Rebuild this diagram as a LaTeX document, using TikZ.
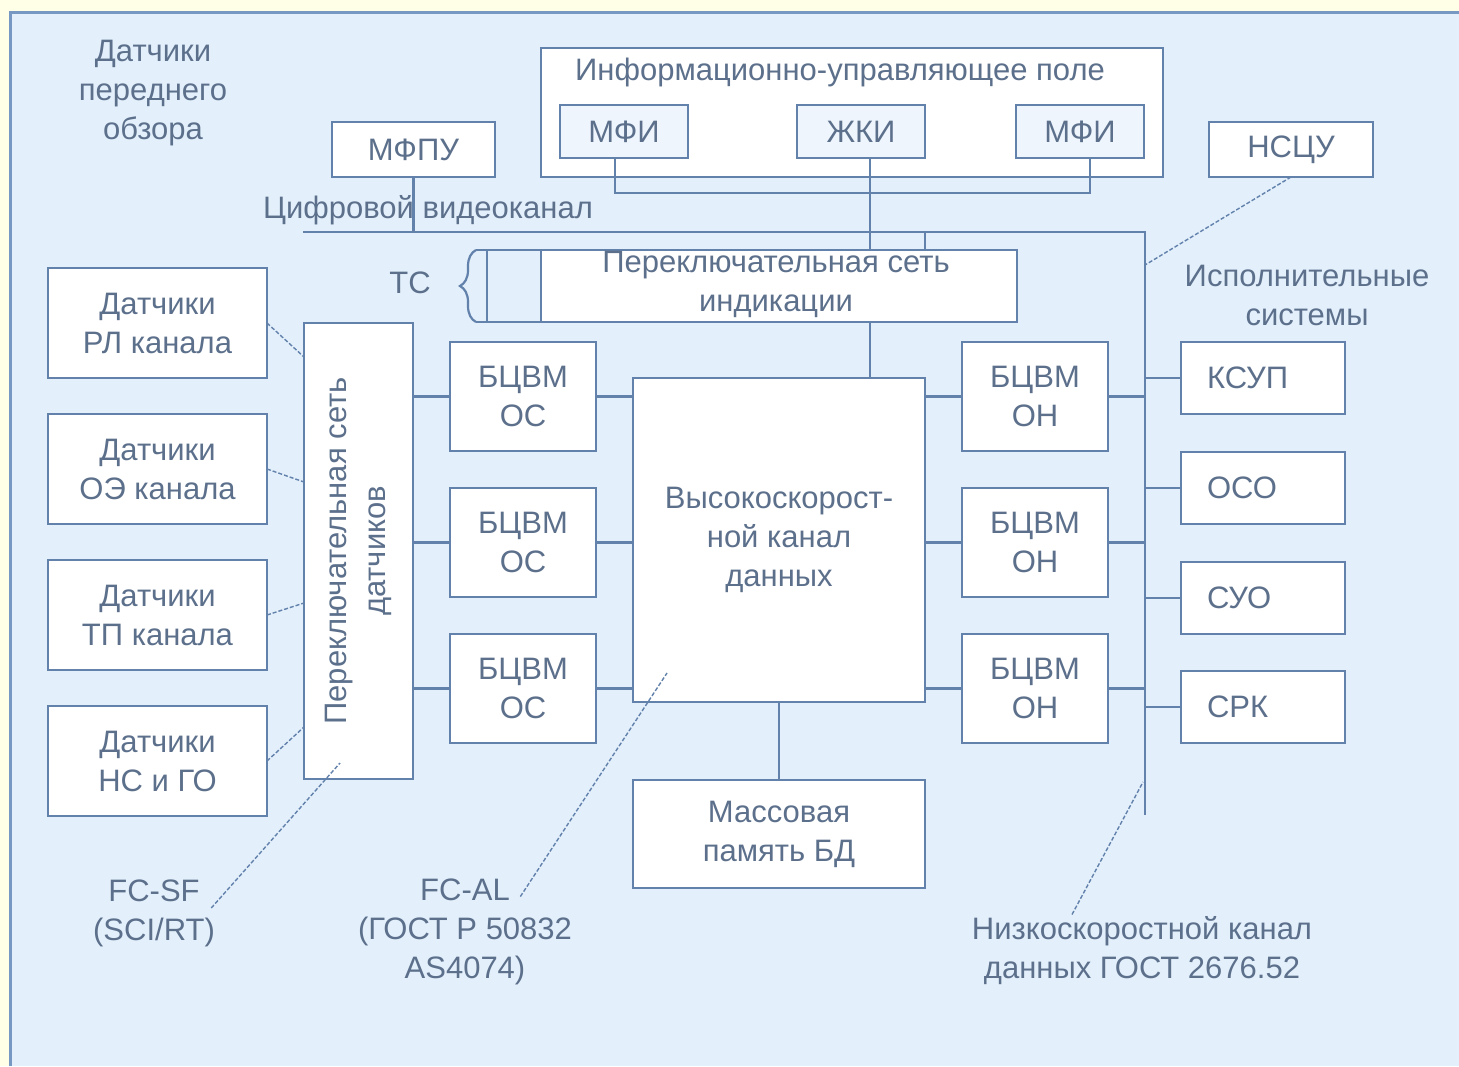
\documentclass[tikz,border=0pt]{standalone}
\usepackage{fontspec}
\setmainfont{Liberation Sans}
\usetikzlibrary{calc,positioning,decorations.pathreplacing}
\definecolor{linec}{RGB}{98,130,172}
\definecolor{textc}{RGB}{92,112,140}
\definecolor{panelc}{RGB}{227,239,251}
\definecolor{outerc}{RGB}{255,255,232}
\definecolor{framec}{RGB}{120,152,196}

\begin{document}
\begin{tikzpicture}[x=0.5pt,y=-0.5pt,
  font=\fontsize{15.5}{19.5}\selectfont, text=textc,
  lbl/.style={align=center,inner sep=1pt},
  box/.style={draw=linec,line width=1.2pt,fill=white,inner sep=0pt,outer sep=0pt,align=center},
  dispbox/.style={box,fill=panelc!60,minimum width=64pt,minimum height=26.5pt},
  sensbox/.style={box,minimum width=109.5pt,minimum height=55pt},
  cpubox/.style={box,minimum width=73pt,minimum height=54.5pt},
  execbox/.style={box,minimum width=82pt,minimum height=36pt,text width=56pt,inner xsep=13pt,align=left},
  link/.style={draw=linec,line width=1.1pt},
  note/.style={draw=linec,line width=0.7pt,dash pattern=on 2pt off 1pt}]
\useasboundingbox (0,0) rectangle (1459,1066);
\fill[outerc] (0,0) rectangle (1459,1066);
\fill[panelc] (10,12) rectangle (1459,1066);
\draw[framec,line width=1.5pt] (10,1066) -- (10,12) -- (1459,12);

% верхняя часть
\node[lbl] (front) at (153,93) {Датчики\\переднего\\обзора};
\node[box,minimum width=81.5pt,minimum height=27.5pt] (mfpu) at (413.5,149.5) {МФПУ};
\node[box,minimum width=311pt,minimum height=64.5pt] (iup) at (852,112.5) {};
\node[lbl] (iuptitle) at (840,72) {Информационно-управляющее поле};
\node[dispbox] (mfi1) at (624,131.5) {МФИ};
\node[dispbox] (zhki) at (861,131.5) {ЖКИ};
\node[dispbox] (mfi2) at (1080,131.5) {МФИ};
\node[box,minimum width=82pt,minimum height=27.5pt] (nscu) at (1291,149.5) {НСЦУ};
\node[lbl] (video) at (428,210) {Цифровой видеоканал};
\coordinate (vb) at (303,232);
\coordinate (lsb) at (1145,232);
\coordinate (lse) at (1145,815);

% сеть индикации
\fill[white] (541,250) rectangle (1017,322);
\node[draw=linec,line width=1.2pt,inner sep=0pt,outer sep=0pt,minimum width=265pt,minimum height=36pt] (isw) at (752,286) {};
\draw[link] (541,250) -- (541,322);
\draw[link] (476,250) -- (isw.north west);
\draw[link] (476,322) -- (isw.south west);
\draw[link,decorate,decoration={brace,amplitude=8pt}] (476,322) -- (476,250);
\node[lbl] (iswtext) at (776,284) {Переключательная сеть\\индикации};
\node[lbl] (tc) at (410,283) {ТС};

% центральная часть
\node[box,minimum width=54.5pt,minimum height=228pt] (ssw) at (358.5,551) {};
\node[lbl,rotate=90] (sswtext) at (ssw.center) {Переключательная сеть\\датчиков};
\node[box,minimum width=146pt,minimum height=162pt] (hsc) at (779,540) {Высокоскорост-\\ной канал\\данных};
\node[box,minimum width=146pt,minimum height=54pt] (mem) at (779,834) {Массовая\\память БД};

\foreach \n/\y/\t in {1/323/{Датчики\\РЛ канала},2/469/{Датчики\\ОЭ канала},3/615/{Датчики\\ТП канала},4/761/{Датчики\\НС и ГО}}
  \node[sensbox] (sen\n) at (157.5,\y) {\t};

\foreach \i/\y in {1/396.5,2/542.5,3/688.5} {
  \node[cpubox] (os\i) at (523,\y) {БЦВМ\\ОС};
  \node[cpubox] (on\i) at (1035,\y) {БЦВМ\\ОН};
}

\node[lbl] (exsys) at (1307,295) {Исполнительные\\системы};
\foreach \n/\y/\t in {ksup/378/КСУП,oso/488/ОСО,suo/598/СУО,srk/707/СРК}
  \node[execbox] (\n) at (1263,\y) {\t};

% связи
\draw[link] ([xshift=-4.5pt]mfi1.south) -- ++(0,35) -| ([xshift=5pt]mfi2.south);
\draw[link] ([xshift=4.5pt]zhki.south) -- ([xshift=4.5pt]zhki.south |- isw.north);
\draw[link] (vb) -- (lsb) -- (lse);
\draw[link] (mfpu.south) -- (mfpu.south |- vb);
\draw[link] (hsc.north east |- vb) -- (hsc.north east |- isw.north);
\draw[link] ([xshift=4.5pt]zhki.south |- isw.south) -- ([xshift=4.5pt]zhki.south |- hsc.north);
\draw[link] (hsc.south) -- (mem.north);
\foreach \i in {1,2,3} {
  \draw[link] (ssw.east |- os\i.west) -- (os\i.west);
  \draw[link] (os\i.east) -- (hsc.west |- os\i.east);
  \draw[link] (hsc.east |- on\i.west) -- (on\i.west);
  \draw[link] (on\i.east) -- (lsb |- on\i.east);
}
\foreach \n in {ksup,oso,suo,srk}
  \draw[link] (lsb |- \n.west) -- (\n.west);

\draw[note] (sen1.east) -- ($(ssw.north west)+(0,34)$);
\draw[note] (sen2.east) -- ($(ssw.north west)+(0,159)$);
\draw[note] (sen3.east) -- ($(ssw.north west)+(0,280)$);
\draw[note] (sen4.east) -- ($(ssw.north west)+(0,404)$);
\draw[note] (nscu.south) -- ($(lsb)+(0,33)$);

% подписи
\node[lbl] (fcsf) at (154,913) {FC-SF\\(SCI/RT)};
\node[lbl] (fcal) at (465,932) {FC-AL\\(ГОСТ Р 50832\\AS4074)};
\node[lbl] (lsc) at (1142,951) {Низкоскоростной канал\\данных ГОСТ 2676.52};
\coordinate (sftip) at (340,763);
\coordinate (altip) at (667,673);
\coordinate (lstip) at (1143,782);
\draw[note] ($(fcsf.east)+(-6,-5)$) -- (sftip);
\draw[note] ($(fcal.north east)+(-54,20)$) -- (altip);
\draw[note] ($(lsc.north)+(-70,0)$) -- (lstip);
\end{tikzpicture}
\end{document}
